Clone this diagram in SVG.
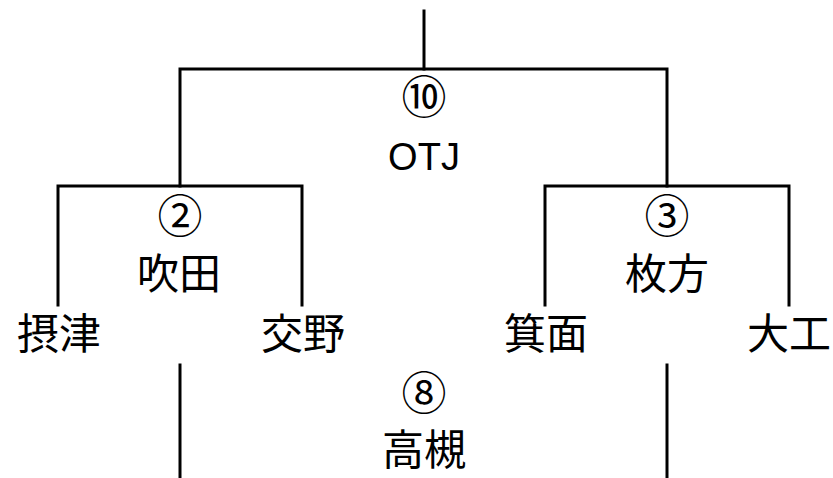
<svg xmlns="http://www.w3.org/2000/svg" width="833" height="478" viewBox="0 0 833 478">
<style>
.ln{fill:none;stroke:#000;stroke-width:3;stroke-linejoin:miter;stroke-linecap:square}
.t{font-family:"Noto Sans CJK JP","Noto Sans CJK SC",sans-serif;font-size:42px;fill:#000;text-anchor:middle}
.n{font-family:"Noto Sans CJK JP","Noto Sans CJK SC",sans-serif;font-size:45px;fill:#000;text-anchor:middle}
.l{font-family:"Liberation Sans","Noto Sans CJK JP",sans-serif;font-size:38px;fill:#000;text-anchor:middle}
</style>
<rect width="833" height="478" fill="#fff"/>
<g id="connectors">
<path class="ln" d="M424 11V69"/>
<path class="ln" d="M180 186V69H667V186"/>
<path class="ln" d="M58 305V186H302V305"/>
<path class="ln" d="M545 305V186H789V305"/>
<path class="ln" d="M180 365V478"/>
<path class="ln" d="M667 365V478"/>
</g>
<g id="final"><text class="n" x="424" y="114">⑩</text><text class="l" x="424" y="170">OTJ</text></g>
<g id="semi-left"><text class="n" x="180" y="233">②</text><text class="t" x="179" y="289">吹田</text></g>
<g id="semi-right"><text class="n" x="667" y="233">③</text><text class="t" x="667" y="289">枚方</text></g>
<g id="settsu"><text class="t" x="59" y="349">摂津</text></g>
<g id="katano"><text class="t" x="303" y="349">交野</text></g>
<g id="minoh"><text class="t" x="546" y="349">箕面</text></g>
<g id="daiko"><text class="t" x="789" y="349">大工</text></g>
<g id="takatsuki"><text class="n" x="424" y="410">⑧</text><text class="t" x="424" y="465">高槻</text></g>
</svg>
